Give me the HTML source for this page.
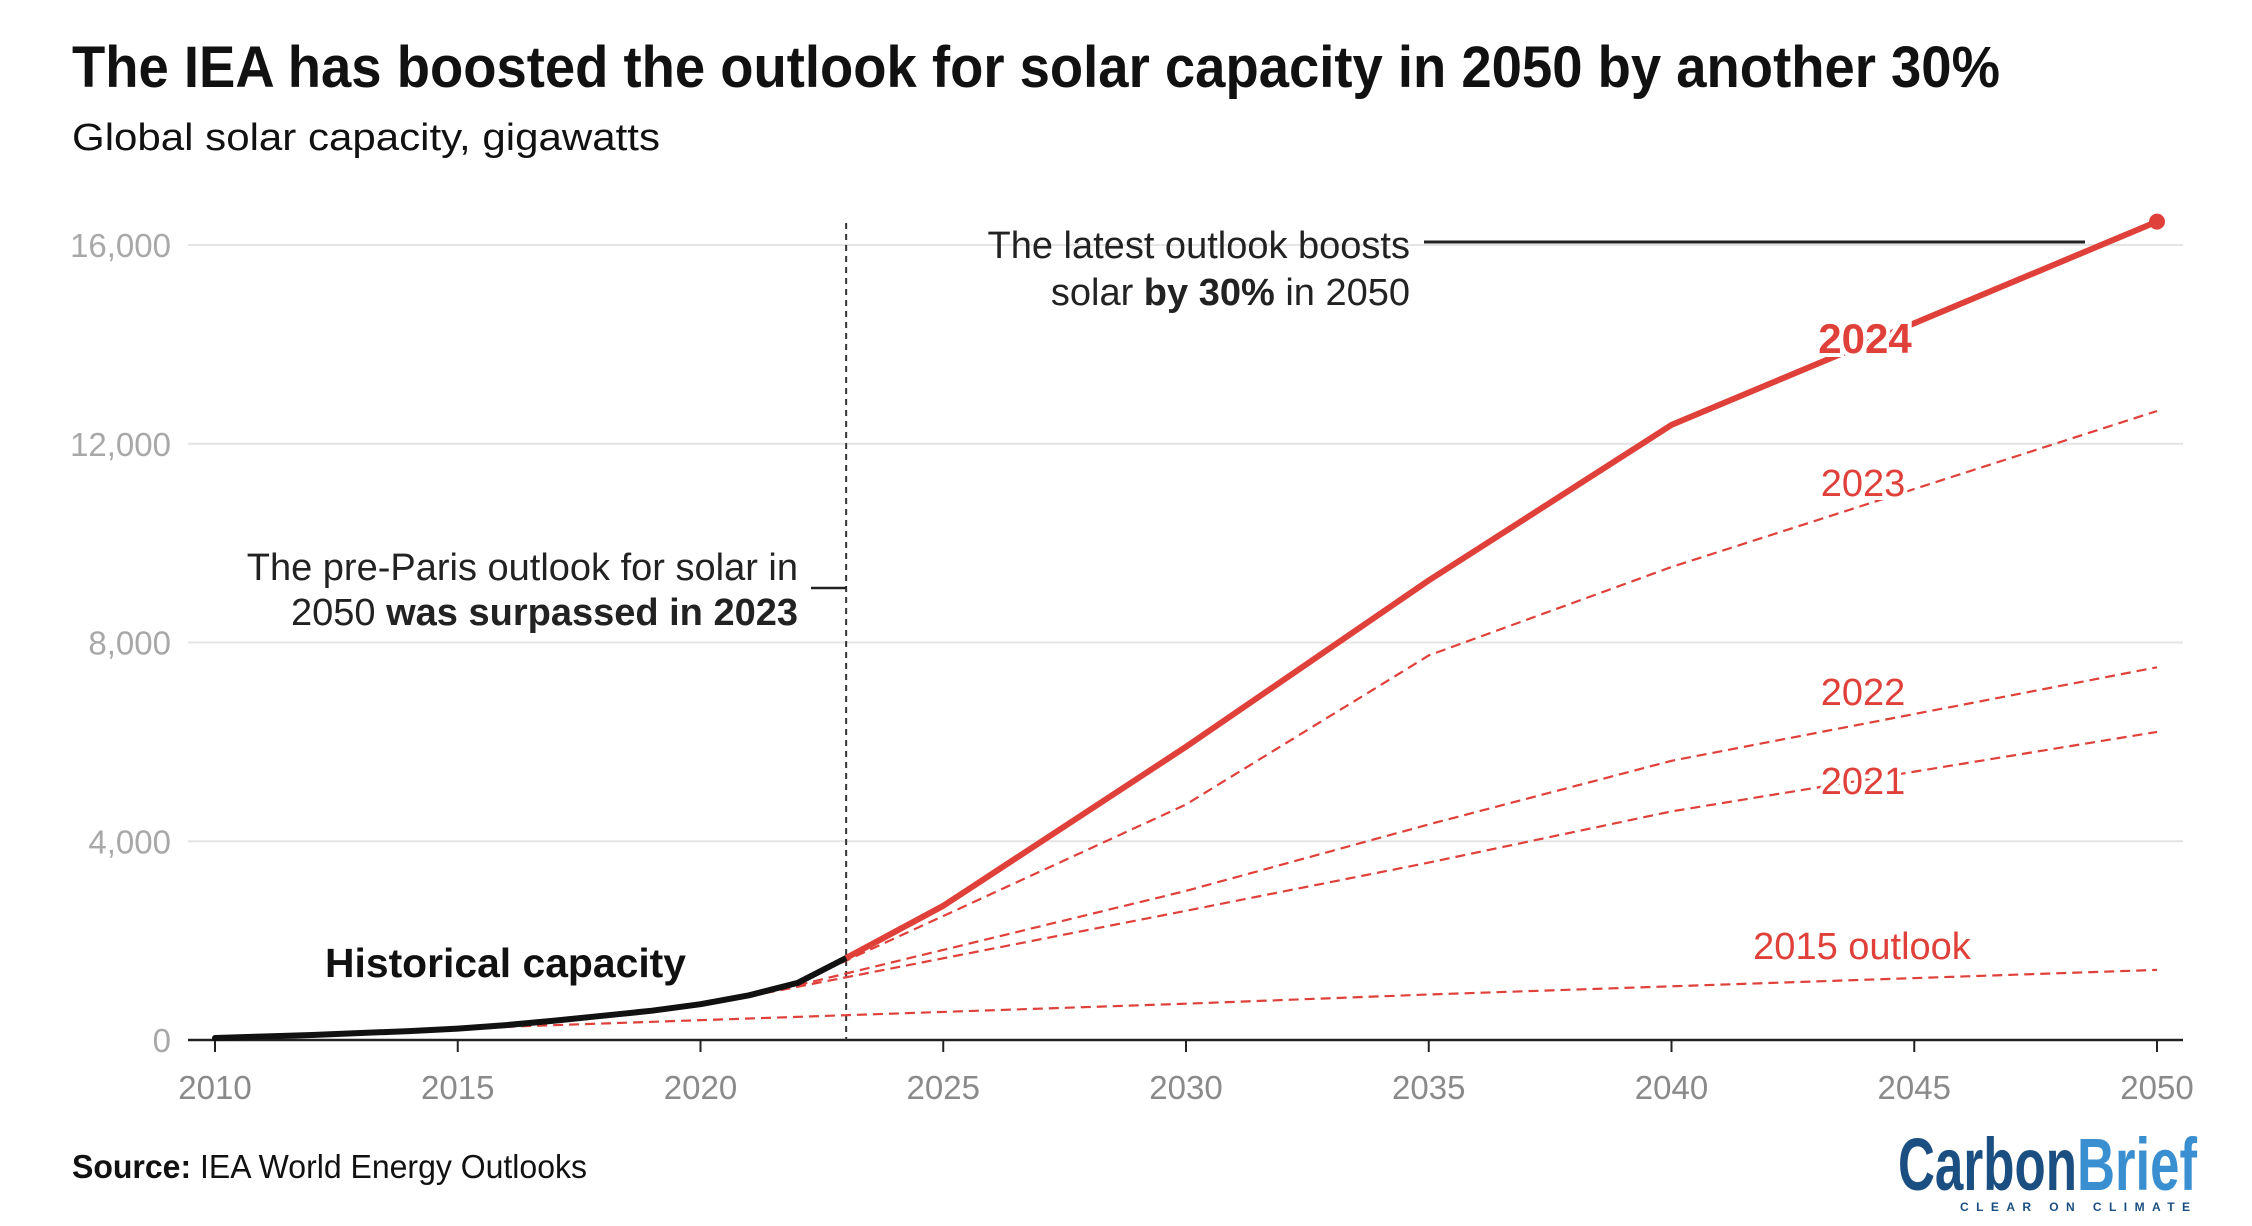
<!DOCTYPE html>
<html><head><meta charset="utf-8"><style>
html,body{margin:0;padding:0;background:#fff;}
svg{display:block;font-family:"Liberation Sans",sans-serif;}
</style></head><body>
<svg id="chart" width="2252" height="1226" viewBox="0 0 2252 1226">
<text x="72" y="87" font-size="58" font-weight="bold" fill="#111" textLength="1928" lengthAdjust="spacingAndGlyphs">The IEA has boosted the outlook for solar capacity in 2050 by another 30%</text>
<text x="72" y="150" font-size="38" fill="#111" textLength="588" lengthAdjust="spacingAndGlyphs">Global solar capacity, gigawatts</text>
<g id="grid"></g>
<g id="marks"></g>
<g id="ann">
<text x="1410" y="258" font-size="38" fill="#222" text-anchor="end">The latest outlook boosts</text>
<text x="1410" y="305" font-size="38" fill="#222" text-anchor="end">solar <tspan font-weight="bold">by 30%</tspan> in 2050</text>
<line x1="1424" y1="242" x2="2085" y2="242" stroke="#222" stroke-width="3"/>
<text x="798" y="580" font-size="38" fill="#222" text-anchor="end">The pre-Paris outlook for solar in</text>
<text x="798" y="625" font-size="38" fill="#222" text-anchor="end">2050 <tspan font-weight="bold">was surpassed in 2023</tspan></text>
<line x1="811" y1="588" x2="846" y2="588" stroke="#222" stroke-width="2.5"/>
<text x="325" y="977" font-size="41" font-weight="bold" fill="#111" textLength="361" lengthAdjust="spacingAndGlyphs">Historical capacity</text>
</g>
<text x="72" y="1178" font-size="33" fill="#111" textLength="515" lengthAdjust="spacingAndGlyphs"><tspan font-weight="bold">Source:</tspan> IEA World Energy Outlooks</text>
<g>
<text x="1898" y="1190" font-size="74" font-weight="bold" fill="#1b4f82" textLength="179" lengthAdjust="spacingAndGlyphs">Carbon</text>
<text x="2077" y="1190" font-size="74" font-weight="bold" fill="#3a8fd0" textLength="120" lengthAdjust="spacingAndGlyphs">Brief</text>
<text x="1960" y="1211" font-size="12" font-weight="bold" fill="#1b4f82" textLength="230" lengthAdjust="spacing">CLEAR ON CLIMATE</text>
</g>
</svg>
<script>
const years2024=[2023,2025,2030,2035,2040,2050];
const vals2024=[1650,2700,5900,9250,12380,16470];
const years2023=[2022,2030,2035,2040,2050];
const vals2023=[1150,4740,7740,9520,12660];
const years2022=[2022,2030,2035,2040,2050];
const vals2022=[1100,3000,4340,5620,7500];
const years2021=[2021,2030,2035,2040,2050];
const vals2021=[880,2600,3570,4600,6200];
const years2015=[2014,2023,2030,2035,2040,2050];
const vals2015=[200,500,730,915,1080,1410];
const histYears=[2010,2011,2012,2013,2014,2015,2016,2017,2018,2019,2020,2021,2022,2023];
const histVals=[40,70,100,140,180,230,300,390,490,590,720,900,1150,1650];
const yTicks=[0,4000,8000,12000,16000];
const yTickLabels=["0","4,000","8,000","12,000","16,000"];
const xTicks=[2010,2015,2020,2025,2030,2035,2040,2045,2050];
const NS="http://www.w3.org/2000/svg";
const X=y=>215+(y-2010)*(2157-215)/40;
const Y=v=>1040-v*(1040-245)/16000;
const RED="#e0403a";
function mk(tag,attrs,parent){const e=document.createElementNS(NS,tag);for(const k in attrs)e.setAttribute(k,attrs[k]);parent.appendChild(e);return e;}
const grid=document.getElementById('grid'),marks=document.getElementById('marks');
yTicks.forEach((v,i)=>{
  if(v>0){const l=mk('line',{x1:188,x2:2183,y1:Y(v),y2:Y(v),stroke:'#e4e4e4','stroke-width':2},grid);
  
  }
  const t=mk('text',{x:171,y:Y(v)+12,'font-size':33,fill:'#a8a8a8','text-anchor':'end'},grid);
  t.textContent=yTickLabels[i];
  
  
});
xTicks.forEach(yr=>{
  const tk=mk('line',{x1:X(yr),x2:X(yr),y1:1040,y2:1052,stroke:'#222','stroke-width':2},grid);
  
  
  const t=mk('text',{x:X(yr),y:1099,'font-size':33,fill:'#8a8a8a','text-anchor':'middle'},grid);
  t.textContent=yr;
  
  
});
const ax=mk('line',{x1:188,x2:2183,y1:1040,y2:1040,stroke:'#222','stroke-width':2.5},grid);


const vl=mk('line',{x1:X(2023),x2:X(2023),y1:223,y2:1040,stroke:'#333','stroke-width':2,'stroke-dasharray':'6 5'},grid);


function pts(ys,vs){return ys.map((y,i)=>X(y).toFixed(1)+','+Y(vs[i]).toFixed(1)).join(' ');}
[[years2015,vals2015,'line-2015-outlook'],[years2021,vals2021,'line-2021-outlook'],[years2022,vals2022,'line-2022-outlook'],[years2023,vals2023,'line-2023-outlook']].forEach(s=>{
  const p=mk('polyline',{points:pts(s[0],s[1]),fill:'none',stroke:RED,'stroke-width':2.2,'stroke-dasharray':'10 6'},marks);
  
  
});
const hp=mk('polyline',{points:pts(histYears,histVals),fill:'none',stroke:'#111','stroke-width':6,'stroke-linejoin':'round','stroke-linecap':'round'},marks);


const p24=mk('polyline',{points:pts(years2024,vals2024),fill:'none',stroke:RED,'stroke-width':6,'stroke-linejoin':'round'},marks);


const dot=mk('circle',{cx:X(2050),cy:Y(vals2024[vals2024.length-1]),r:8,fill:RED},marks);


[['2024',1865,353,42,'bold','label-2024'],['2023',1863,496,38,'normal','label-2023'],['2022',1863,705,38,'normal','label-2022'],['2021',1863,794,38,'normal','label-2021'],['2015 outlook',1862,959,38,'normal','label-2015-outlook']].forEach(l=>{
  const t=mk('text',{x:l[1],y:l[2],'font-size':l[3],'font-weight':l[4],fill:RED,'text-anchor':'middle',stroke:'#fff','stroke-width':8,'paint-order':'stroke'},marks);
  t.textContent=l[0];
  
  
});
</script>
</body></html>
